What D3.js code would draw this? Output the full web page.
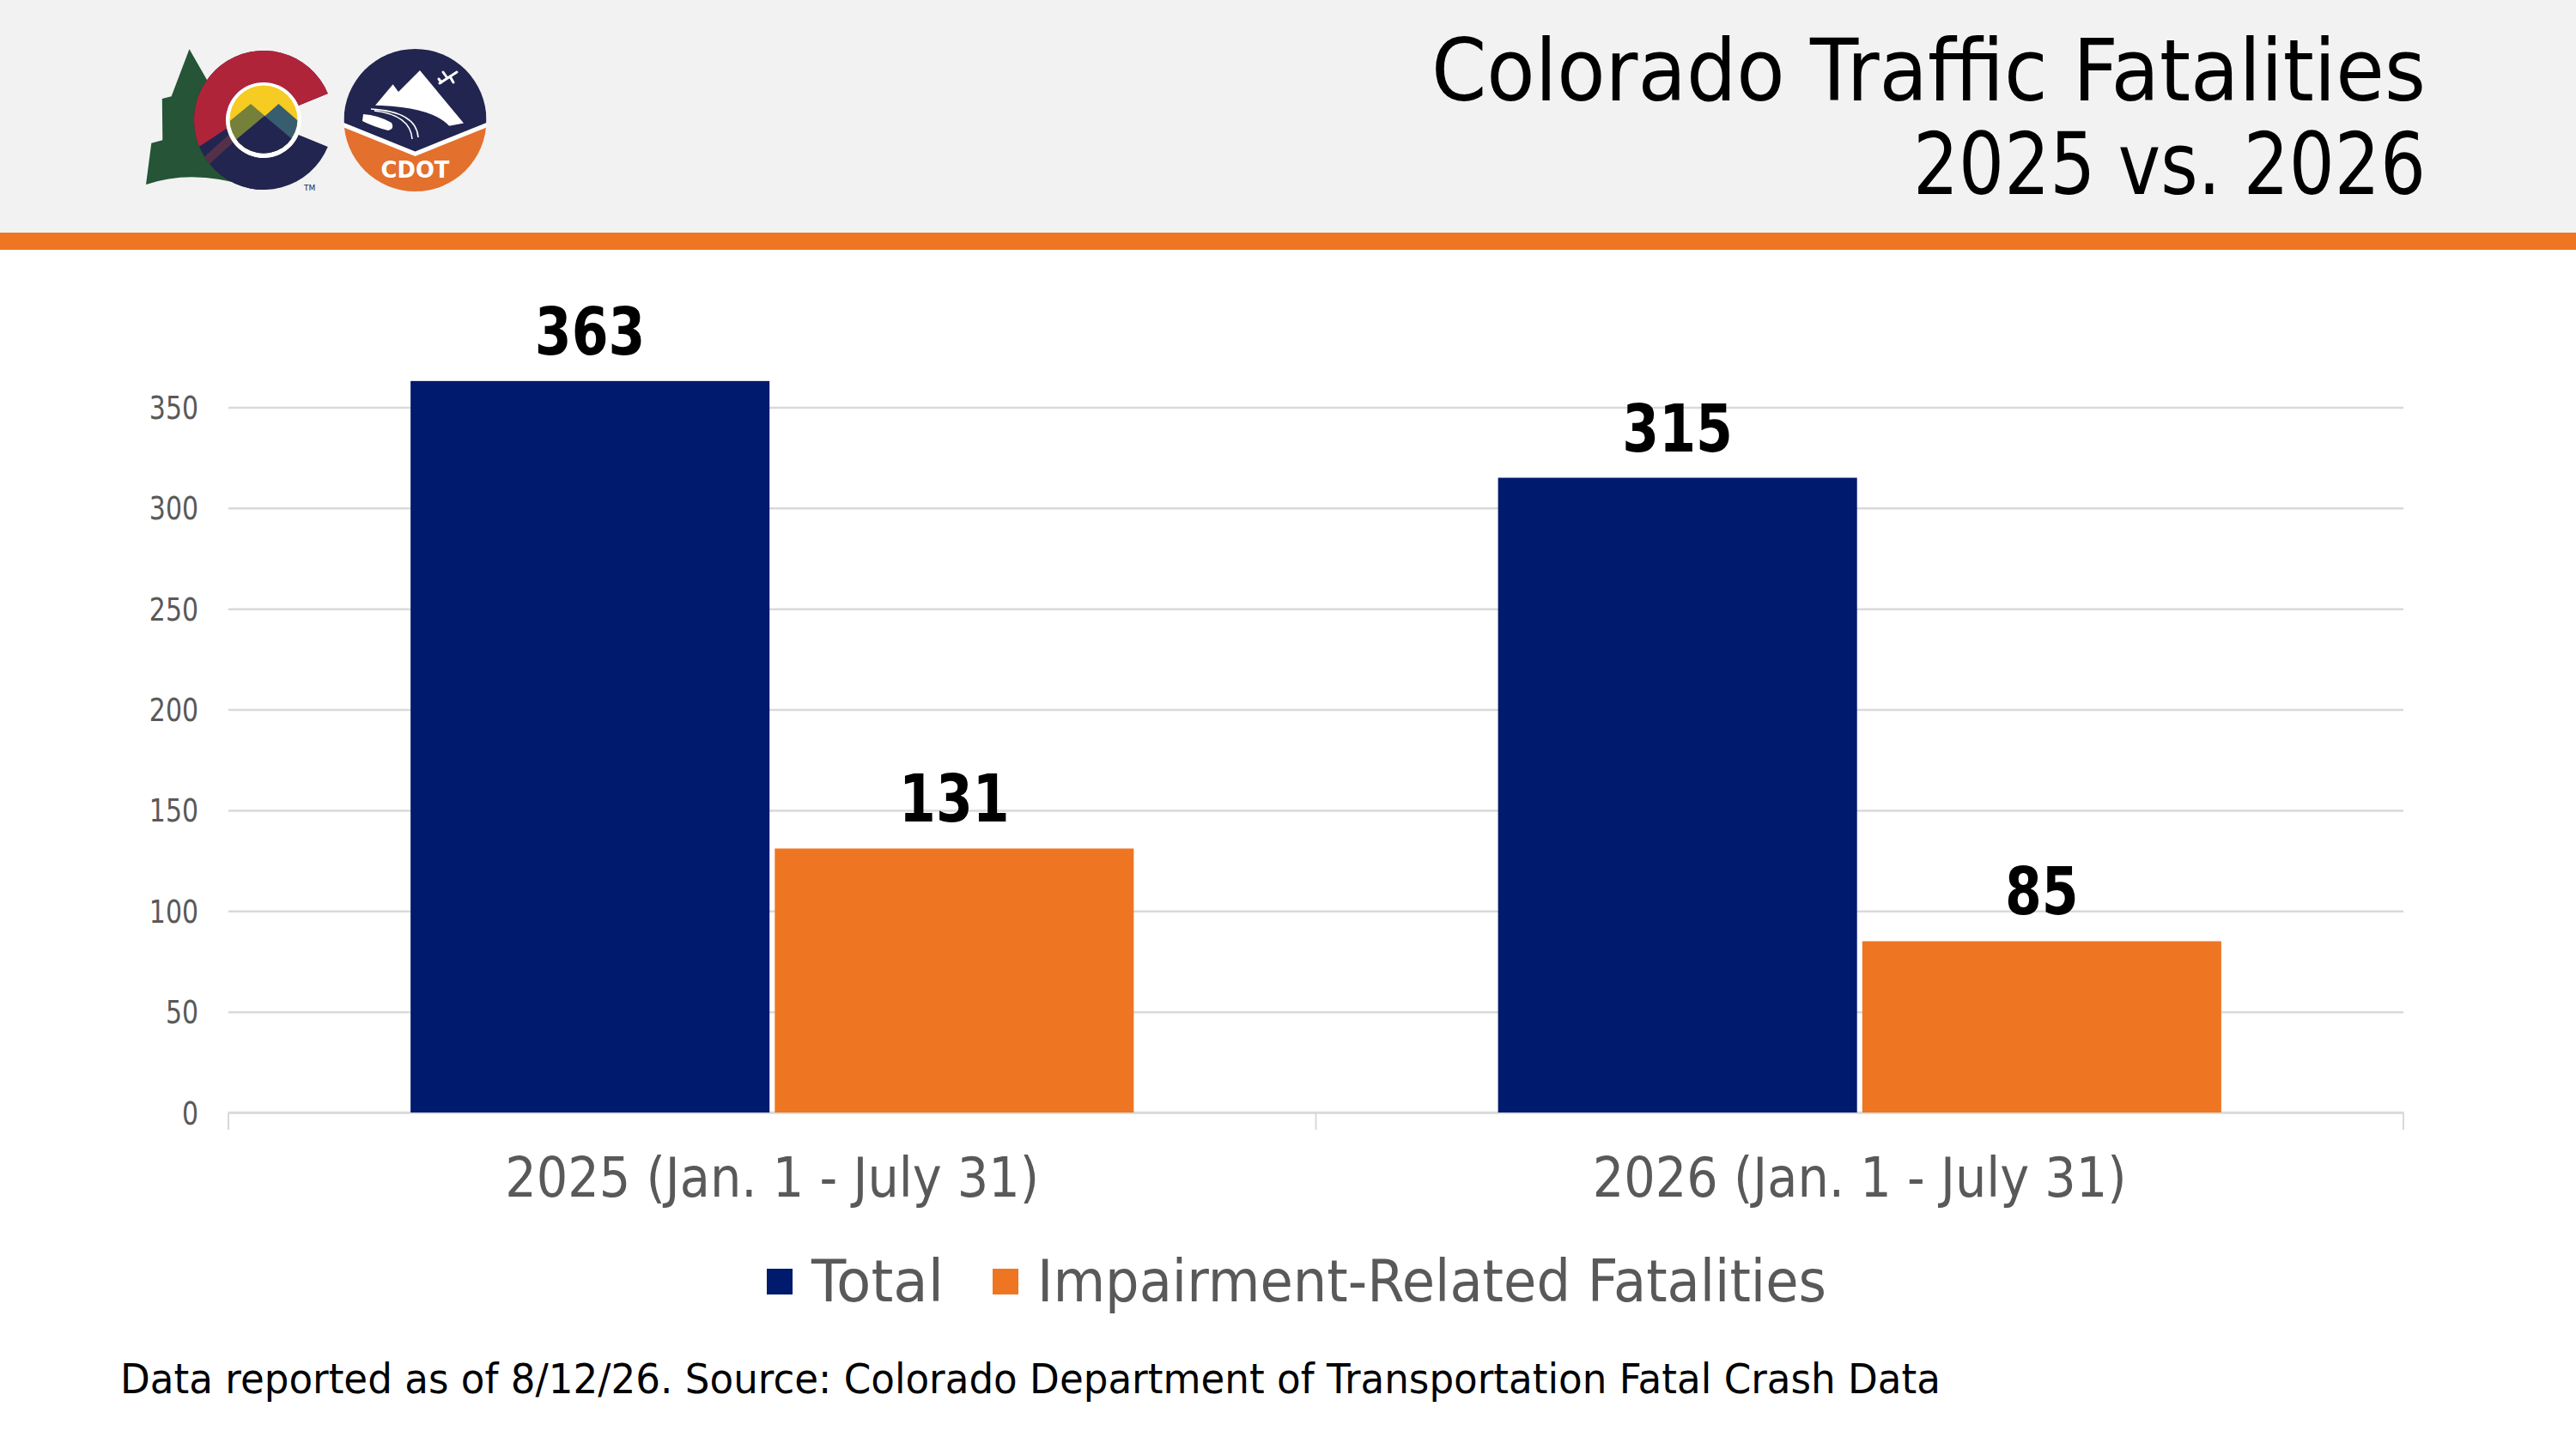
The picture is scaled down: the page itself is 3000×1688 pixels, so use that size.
<!DOCTYPE html>
<html>
<head>
    <style>
        html,
        body {
            width: 100%;
            height: 100%;
            margin: 0;
            padding: 0;
            overflow: hidden;
            background: #ffffff;
        }
    </style>
</head>
<body>
<script src="https://d3js.org/d3.v7.min.js"></script>
<script>
    // ---- data ----
    const categories = ["2025 (Jan. 1 - July 31)", "2026 (Jan. 1 - July 31)"];
    const seriesNames = ["Total", "Impairment-Related Fatalities"];
    const totalValues = [363, 315];
    const impairmentValues = [131, 85];
    const yTicks = [0, 50, 100, 150, 200, 250, 300, 350];
    const titleLines = ["Colorado Traffic Fatalities", "2025 vs. 2026"];
    const footnote = "Data reported as of 8/12/26. Source: Colorado Department of Transportation Fatal Crash Data";

    const seriesColors = ["#001a6e", "#ee7623"];
    const FONT = "'DejaVu Sans', 'Open Sans', sans-serif";
    const GREY_TEXT = "#595959";

    const width = 3000;
    const height = 1688;

    // plot area in page pixels
    const plot = {left: 266, right: 2799, top: 357, bottom: 1296};

    const svg = d3.select("body")
        .append("svg")
        .attr("width", width)
        .attr("height", height);

    // squeeze a text horizontally to a target width (keeps it real text)
    function fitWidth(sel, target) {
        sel.each(function () {
            const len = this.getComputedTextLength();
            if (Math.abs(len - target) > 0.5) {
                d3.select(this).attr("textLength", target).attr("lengthAdjust", "spacingAndGlyphs");
            }
        });
    }
    function squeeze(sel, ratio) {
        sel.each(function () {
            const len = this.getComputedTextLength();
            d3.select(this).attr("textLength", len * ratio).attr("lengthAdjust", "spacingAndGlyphs");
        });
    }

    // ---- header band ----
    svg.append("rect").attr("x", 0).attr("y", 0).attr("width", width).attr("height", 271).attr("fill", "#f2f2f2");
    svg.append("rect").attr("x", 0).attr("y", 271).attr("width", width).attr("height", 20).attr("fill", "#ee7623");

    // title, right aligned
    const titleWidths = [1158, 597];
    const titleBaselines = [117, 226];
    titleLines.forEach((line, i) => {
        const t = svg.append("text")
            .attr("y", titleBaselines[i])
            .attr("font-family", FONT)
            .attr("font-size", 99)
            .attr("fill", "#000")
            .text(line);
        fitWidth(t, titleWidths[i]);
        t.attr("x", 2825 - titleWidths[i]);
    });

    // ---- logos (decoration) ----
    const defs = svg.append("defs");
    const logo = svg.append("g");

    // Colorado tree + C
    logo.append("path")
        .attr("d", "M170,215 L176.3,166.7 L189.3,163.3 L188.8,115 L199.6,112.3 L220.5,57.3 L245,100 L292,218 Q225,196 170,215 Z")
        .attr("fill", "#255436");

    const cx = 307, cy = 140;
    const ringPath = "M381.8,108.9 A81,81 0 1 0 381.8,171.1 L347.6,156.9 A44,44 0 1 1 347.6,123.1 Z";
    defs.append("clipPath").attr("id", "cClip").append("path").attr("d", ringPath);
    const cGroup = logo.append("g").attr("clip-path", "url(#cClip)");
    cGroup.append("rect").attr("x", 200).attr("y", 40).attr("width", 220).attr("height", 200).attr("fill", "#22254f");
    // plum strip between red and navy
    cGroup.append("polygon")
        .attr("points", "120,290 307,120 307,140 140,300")
        .attr("fill", "#553149");
    cGroup.append("polygon")
        .attr("points", "120,224 230,172 268,147 307,121 307,140 430,140 430,0 120,0")
        .attr("fill", "#b0243a");
    cGroup.append("polygon")
        .attr("points", "150,276 243,192 274.5,163 307,134 307,250 150,250")
        .attr("fill", "#22254f");

    // inner sun / mountains
    logo.append("circle").attr("cx", cx).attr("cy", cy).attr("r", 44).attr("fill", "#ffffff");
    defs.append("clipPath").attr("id", "sunClip").append("circle").attr("cx", cx).attr("cy", cy - 1).attr("r", 39.5);
    const sun = logo.append("g").attr("clip-path", "url(#sunClip)");
    sun.append("rect").attr("x", 260).attr("y", 90).attr("width", 100).attr("height", 100).attr("fill", "#f6cb22");
    sun.append("polygon").attr("points", "292,121 380,196 200,196").attr("fill", "#75803a");
    sun.append("polygon").attr("points", "324.5,121 410,196 240,196").attr("fill", "#385d6f");
    sun.append("polygon").attr("points", "308,135 400,212 216,212").attr("fill", "#22254f");
    logo.append("text").attr("x", 354).attr("y", 222).attr("font-family", FONT)
        .attr("font-size", 9).attr("fill", "#22254f").text("TM");

    // CDOT badge
    const bx = 483.5, by = 140, br = 83;
    defs.append("clipPath").attr("id", "badgeClip").append("circle").attr("cx", bx).attr("cy", by).attr("r", br);
    const badge = logo.append("g").attr("clip-path", "url(#badgeClip)");
    badge.append("rect").attr("x", bx - br).attr("y", by - br).attr("width", 2 * br).attr("height", 2 * br).attr("fill", "#ffffff");
    badge.append("polygon")
        .attr("points", `${bx - br},${by - br} ${bx + br},${by - br} ${bx + br},143 ${bx},176.5 ${bx - br},143`)
        .attr("fill", "#22254f");
    badge.append("polygon")
        .attr("points", `${bx - br},148.5 ${bx},182 ${bx + br},148.5 ${bx + br},${by + br} ${bx - br},${by + br}`)
        .attr("fill", "#e3702d");
    // mountain
    badge.append("path")
        .attr("d", "M436,124 L457.6,98.3 L464,107 L489,82 L540,143.5 L516,148 Q500,128 440,126 Z")
        .attr("fill", "#ffffff");
    // road
    badge.append("path")
        .attr("d", "M432,127 Q500,128 520,150")
        .attr("fill", "none").attr("stroke", "#22254f").attr("stroke-width", 9);
    badge.append("path")
        .attr("d", "M432,127 Q485,130 487,160 M436,129 Q478,134 480,162")
        .attr("fill", "none").attr("stroke", "#ffffff").attr("stroke-width", 1.6);
    badge.append("path")
        .attr("d", "M423,133 Q440,134 456,143 Q460,150 452,152 Q436,148 422,141 Z")
        .attr("fill", "#ffffff");
    // plane
    badge.append("path")
        .attr("d", "M512,97 L532,84 M521,91 L516,84 M524,89 L528,96 M514,96 L511,92")
        .attr("fill", "none").attr("stroke", "#ffffff").attr("stroke-width", 3).attr("stroke-linecap", "round");
    const cdot = logo.append("text").attr("y", 207).attr("font-family", FONT)
        .attr("font-size", 26).attr("font-weight", 700).attr("fill", "#ffffff").text("CDOT");
    fitWidth(cdot, 80);
    cdot.attr("x", bx - 40);

    // ---- scales ----
    const x0 = d3.scaleBand()
        .domain(categories)
        .range([plot.left, plot.right])
        .paddingInner(0)
        .paddingOuter(0);

    const groupFrac = 0.665; // share of each band filled by the pair of bars
    const groupOffset = x0.bandwidth() * (1 - groupFrac) / 2;
    const x1 = d3.scaleBand()
        .domain(seriesNames)
        .range([groupOffset, groupOffset + x0.bandwidth() * groupFrac])
        .paddingInner(0.0144);

    const y = d3.scaleLinear()
        .domain([0, 400])
        .range([plot.bottom, plot.top]);

    const color = d3.scaleOrdinal().domain(seriesNames).range(seriesColors);

    // ---- gridlines + y labels ----
    const yAxis = svg.append("g")
        .attr("transform", `translate(${plot.left},0)`)
        .call(d3.axisLeft(y)
            .tickValues(yTicks)
            .tickSize(-(plot.right - plot.left))
            .tickPadding(35));
    yAxis.select(".domain").remove();
    yAxis.selectAll(".tick line")
        .attr("stroke", "#d9d9d9")
        .attr("stroke-width", 2.5);
    yAxis.selectAll(".tick text")
        .attr("font-family", FONT)
        .attr("font-size", 36.5)
        .attr("fill", GREY_TEXT)
        .attr("dy", 13);
    squeeze(yAxis.selectAll(".tick text"), 0.82);

    // ---- x axis ----
    const xAxis = svg.append("g")
        .attr("transform", `translate(0,${plot.bottom})`)
        .call(d3.axisBottom(x0).tickSize(0).tickPadding(52));
    xAxis.select(".domain").remove();
    xAxis.selectAll(".tick text")
        .attr("font-family", FONT)
        .attr("font-size", 64.5)
        .attr("fill", GREY_TEXT);
    fitWidth(xAxis.selectAll(".tick text"), 622);

    svg.append("line")
        .attr("x1", plot.left).attr("x2", plot.right)
        .attr("y1", plot.bottom).attr("y2", plot.bottom)
        .attr("stroke", "#d9d9d9").attr("stroke-width", 2.5);
    const edges = categories.map(c => x0(c)).concat([x0.range()[1]]);
    svg.append("g").selectAll("line")
        .data(edges)
        .join("line")
        .attr("x1", d => d).attr("x2", d => d)
        .attr("y1", plot.bottom).attr("y2", plot.bottom + 20)
        .attr("stroke", "#d9d9d9").attr("stroke-width", 2);

    // ---- bars ----
    const rows = categories.map((c, i) => ({
        category: c,
        values: [
            {series: seriesNames[0], value: totalValues[i]},
            {series: seriesNames[1], value: impairmentValues[i]}
        ]
    }));

    const groups = svg.append("g").selectAll("g")
        .data(rows)
        .join("g")
        .attr("transform", d => `translate(${x0(d.category)},0)`);

    groups.selectAll("rect")
        .data(d => d.values)
        .join("rect")
        .attr("x", d => x1(d.series))
        .attr("width", x1.bandwidth())
        .attr("y", d => y(d.value))
        .attr("height", d => y(0) - y(d.value))
        .attr("fill", d => color(d.series));

    const labels = groups.selectAll("text")
        .data(d => d.values)
        .join("text")
        .attr("x", d => x1(d.series) + x1.bandwidth() / 2)
        .attr("y", d => y(d.value) - 31)
        .attr("text-anchor", "middle")
        .attr("font-family", FONT)
        .attr("font-size", 77)
        .attr("font-weight", 700)
        .attr("fill", "#000")
        .text(d => d.value);
    squeeze(labels, 0.8);

    // ---- legend ----
    const legendTextWidths = [154, 919];
    const legend = svg.append("g");
    let lx = 893;
    seriesNames.forEach((name, i) => {
        legend.append("rect")
            .attr("x", lx).attr("y", 1478)
            .attr("width", 30).attr("height", 30)
            .attr("fill", seriesColors[i]);
        const t = legend.append("text")
            .attr("x", lx + 52)
            .attr("y", 1516)
            .attr("font-family", FONT)
            .attr("font-size", 68.5)
            .attr("fill", GREY_TEXT)
            .text(name);
        fitWidth(t, legendTextWidths[i]);
        lx = lx + 52 + legendTextWidths[i] + 57;
    });

    // ---- footnote ----
    const foot = svg.append("text")
        .attr("x", 140)
        .attr("y", 1623)
        .attr("font-family", FONT)
        .attr("font-size", 48)
        .attr("fill", "#000")
        .text(footnote);
    fitWidth(foot, 2120);
</script>
</body>
</html>
